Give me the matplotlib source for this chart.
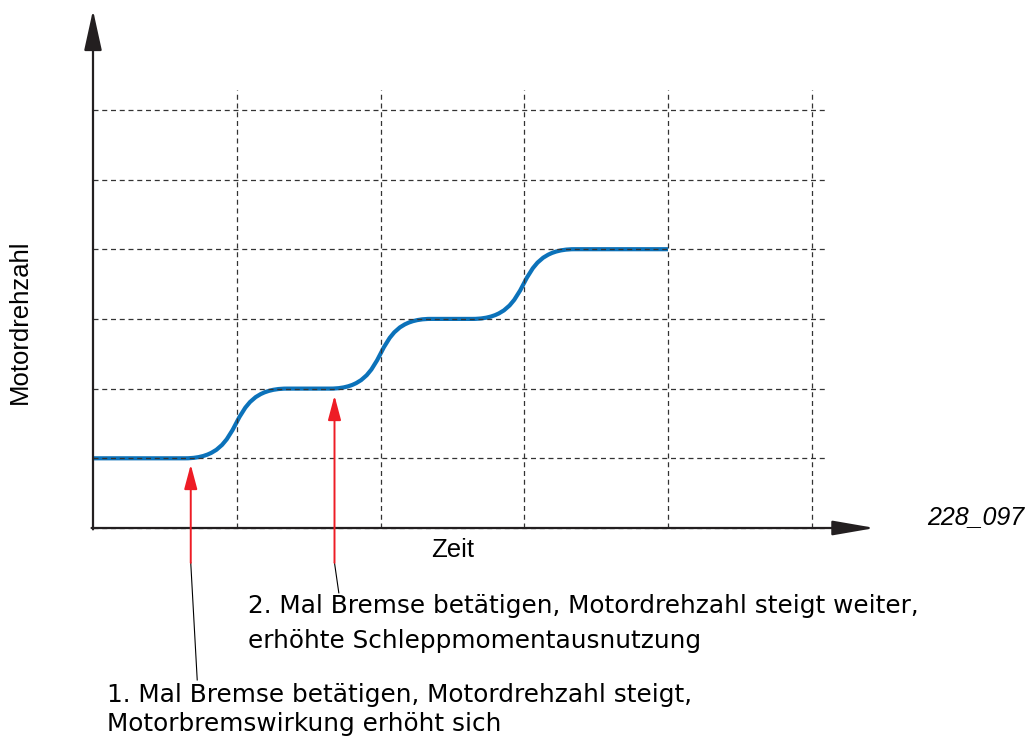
import matplotlib.pyplot as plt
from matplotlib.path import Path
from matplotlib.patches import PathPatch

# speed levels (grid units) and the time spans of each rise
levels = [1, 2, 3, 4]
rise_start = [0.64, 1.65, 2.64]
rise_end = [1.35, 2.35, 3.35]
t_end = 4.0

grid_x = [1, 2, 3, 4, 5]
grid_y = [1, 2, 3, 4, 5, 6]

# brake events: time, arrow tip height
brake_t = [0.68, 1.68]
brake_tip = [0.91, 1.90]

label_1 = ["1. Mal Bremse betätigen, Motordrehzahl steigt,",
           "Motorbremswirkung erhöht sich"]
label_2 = ["2. Mal Bremse betätigen, Motordrehzahl steigt weiter,",
           "erhöhte Schleppmomentausnutzung"]

BLUE = '#0b72ba'
RED = '#ee1c25'
DARK = '#231f20'

fig = plt.figure(figsize=(10.29, 7.37), dpi=100)
ax = fig.add_axes([0, 0, 1, 1])
px_x = 143.75
px_y = 69.7
ax.set_xlim(-93 / px_x, (1029 - 93) / px_x)
ax.set_ylim((528 - 737) / px_y, 528 / px_y)
ax.axis('off')


def to_x(px):
    return (px - 93) / px_x


def to_y(py):
    return (528 - py) / px_y


# dashed grid
for gx in grid_x:
    ax.plot([gx, gx], [0, 6.28], ls=(0, (4, 3)), color='#333333', lw=0.9)
for gy in [0] + grid_y:
    ax.plot([0, 5.11], [gy, gy], ls=(0, (4, 3)), color='#333333', lw=0.9)

# axes with arrow heads
ax.annotate('', xy=(0, 7.43), xytext=(0, -0.02),
            arrowprops=dict(arrowstyle='-|>,head_length=2.5,head_width=0.55',
                            color=DARK, lw=1.6, shrinkA=0, shrinkB=0))
ax.annotate('', xy=(5.44, 0), xytext=(-0.01, 0),
            arrowprops=dict(arrowstyle='-|>,head_length=2.6,head_width=0.45',
                            color=DARK, lw=1.6, shrinkA=0, shrinkB=0))

# speed curve: flat sections joined by S-shaped Bezier rises
verts = [(0, levels[0])]
codes = [Path.MOVETO]
for i in range(len(rise_start)):
    x0, x1 = rise_start[i], rise_end[i]
    y0, y1 = levels[i], levels[i + 1]
    a = 0.64 * (x1 - x0)
    verts += [(x0, y0), (x0 + a, y0), (x1 - a, y1), (x1, y1)]
    codes += [Path.LINETO, Path.CURVE4, Path.CURVE4, Path.CURVE4]
verts.append((t_end, levels[-1]))
codes.append(Path.LINETO)
ax.add_patch(PathPatch(Path(verts, codes), fill=False, edgecolor=BLUE,
                       lw=3.0, capstyle='butt', joinstyle='round'))

# brake arrows
for t, tip in zip(brake_t, brake_tip):
    ax.annotate('', xy=(t, tip), xytext=(t, -0.5),
                arrowprops=dict(arrowstyle='-|>,head_length=1.5,head_width=0.4',
                                color=RED, lw=1.4, shrinkA=0, shrinkB=0))

# leader lines to the notes
ax.plot([brake_t[0], 0.725], [-0.5, -2.18], color='black', lw=0.8)
ax.plot([brake_t[1], 1.71], [-0.5, -0.93], color='black', lw=0.8)

note_font = dict(family='DejaVu Sans', fontsize=17.8, color='black',
                 ha='left', va='baseline')
for line, base in zip(label_2, [613, 648]):
    ax.text(to_x(248), to_y(base), line, **note_font)
for line, base in zip(label_1, [702, 731]):
    ax.text(to_x(107), to_y(base), line, **note_font)

ax.text(to_x(453), to_y(550), 'Zeit', ha='center', va='center',
        family='Liberation Sans', fontsize=18.5)
ax.text(to_x(20), to_y(322), 'Motordrehzahl', rotation=90,
        ha='center', va='center', family='Liberation Sans', fontsize=18.5)
ax.text(to_x(976), to_y(517), '228_097', ha='center', va='center',
        family='Liberation Sans', style='italic', fontsize=18)

fig.savefig('out.png', dpi=100)
